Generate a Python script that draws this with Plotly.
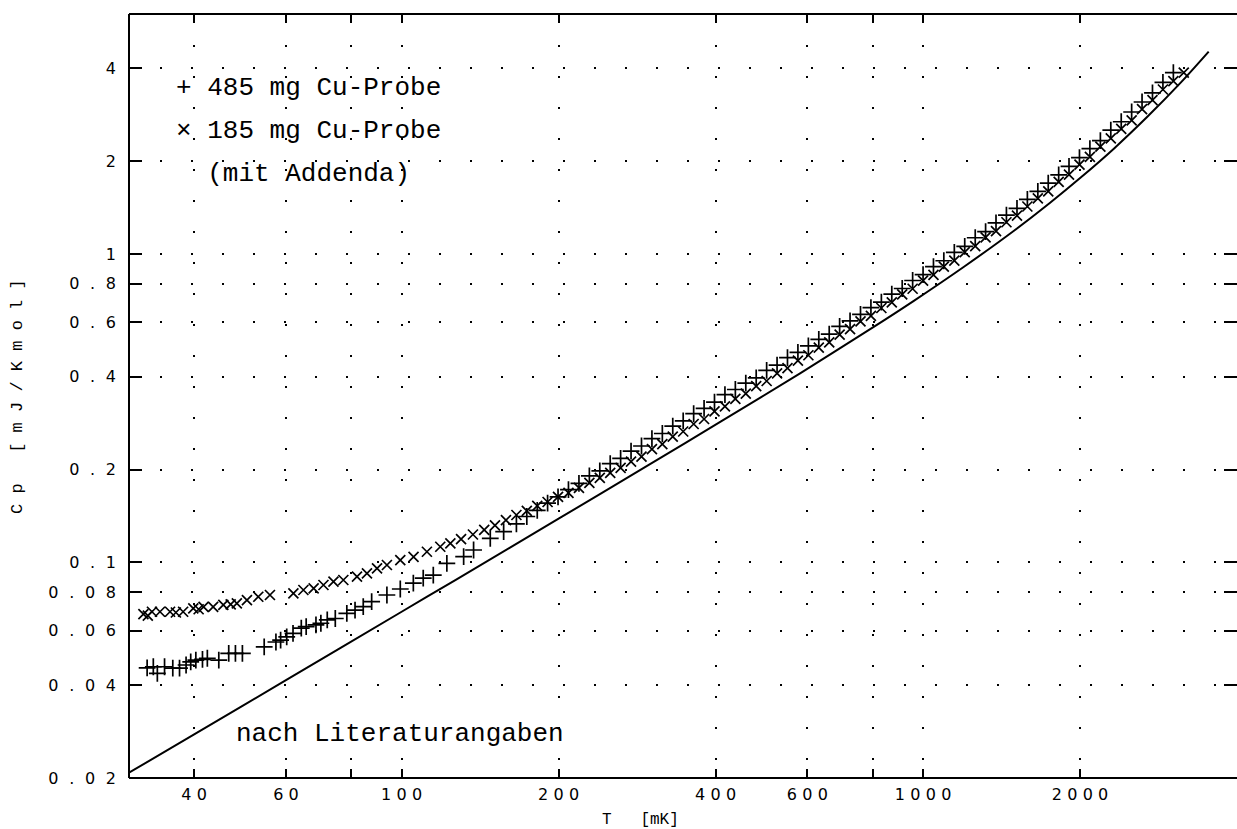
import math
import plotly.graph_objects as go

# ---------------- data ----------------
# literature curve for copper ("nach Literaturangaben")
lit_T = [30, 40, 60, 100, 127, 200, 300, 409, 582, 800, 960, 1200, 1494,
         1750, 2006, 2325, 2695, 3123, 3530]
lit_Cp = [0.0208, 0.0277, 0.0415, 0.0692, 0.0878, 0.1386, 0.2086, 0.286, 0.411,
          0.577, 0.705, 0.911, 1.19, 1.464, 1.77, 2.20, 2.79, 3.60, 4.53]

# 485 mg Cu sample (+), low temperature part
p485_T_low = [32.5, 33.4, 34.0, 35.1, 36.4, 37.5, 38.6, 39.4, 40.3, 41.5, 42.4,
              44.6, 46.6, 48.0, 49.5, 54.5, 57.4, 58.6, 60.2, 61.9, 64.2, 65.6,
              68.5, 70.0, 72.0, 74.6, 78.5, 81.4, 84.4, 87.6, 93.7, 99.4, 105.3,
              110.0, 115.0, 122.1, 131.5, 137.4, 147.9, 156.9]
p485_Cp_low = [0.0455, 0.0459, 0.0437, 0.0459, 0.0454, 0.0454, 0.0465, 0.0476,
               0.0482, 0.0485, 0.0489, 0.0482, 0.0507, 0.0507, 0.0507, 0.0532,
               0.0552, 0.0560, 0.0574, 0.0589, 0.0612, 0.0619, 0.0627, 0.0635,
               0.0651, 0.0658, 0.0684, 0.0700, 0.0719, 0.0746, 0.0784, 0.0820,
               0.0857, 0.0889, 0.0910, 0.0993, 0.1044, 0.1097, 0.1197, 0.1258]

# temperatures of the dense measurement points above ~160 mK
hi_T = [166.0, 173.8, 182.0, 190.5, 199.5, 208.9, 218.8, 229.1, 239.9, 251.2,
        263.0, 275.4, 288.4, 302.0, 316.2, 331.1, 346.7, 363.1, 380.2, 398.1,
        416.9, 436.5, 457.1, 478.6, 501.2, 524.8, 549.5, 575.4, 602.6, 631.0,
        660.7, 691.8, 724.4, 758.6, 794.3, 831.8, 871.0, 912.0, 955.0, 1000,
        1047, 1096, 1148, 1202, 1259, 1318, 1380, 1445, 1514, 1585,
        1660, 1738, 1820, 1905, 1995, 2089, 2188, 2291, 2399, 2512,
        2630, 2754, 2884, 3020]

p485_Cp_hi = [0.1333, 0.1409, 0.1475, 0.1556, 0.1632, 0.1723, 0.1805, 0.1907,
              0.1981, 0.2092, 0.2173, 0.2296, 0.2385, 0.2520, 0.2618, 0.2766,
              0.2875, 0.3038, 0.3157, 0.3309, 0.3498, 0.3637, 0.3813, 0.3964,
              0.4192, 0.4360, 0.4612, 0.4799, 0.5036, 0.5285, 0.5501, 0.5826,
              0.6069, 0.6375, 0.6701, 0.6984, 0.7410, 0.7728, 0.8205, 0.8567,
              0.9103, 0.9510, 1.0123, 1.0592, 1.1288, 1.1826, 1.2617, 1.3359,
              1.4048, 1.5026, 1.5963, 1.6970, 1.8065, 1.9244, 2.0542, 2.1955,
              2.3310, 2.5205, 2.6837, 2.8869, 3.1104, 3.3295, 3.6020, 3.8704]

# 185 mg Cu sample with addenda (x), low temperature part
x185_T_low = [31.97, 32.6, 33.2, 34.4, 35.96, 36.9, 38.1, 39.85, 40.8, 41.7,
              43.5, 45.5, 47.0, 48.3, 50.5, 53.1, 55.9, 62.0, 64.8, 67.8, 70.8,
              74.0, 77.3, 82.1, 85.8, 89.7, 93.7, 99.4, 105.4, 111.8, 118.6,
              124.0, 130.0, 137.0, 144.0, 151.0, 158.5]
x185_Cp_low = [0.0680, 0.0672, 0.0692, 0.0692, 0.0692, 0.0688, 0.0692, 0.0710,
               0.0705, 0.0718, 0.0718, 0.0728, 0.0731, 0.0737, 0.0755, 0.0774,
               0.0784, 0.0794, 0.0814, 0.0824, 0.0845, 0.0866, 0.0877, 0.0899,
               0.0922, 0.0957, 0.0981, 0.1018, 0.1043, 0.1083, 0.1124, 0.1153,
               0.1190, 0.1232, 0.1275, 0.1318, 0.1371]
x185_Cp_hi = [0.1425, 0.1469, 0.1526, 0.1570, 0.1632, 0.1680, 0.1745, 0.1811,
              0.1881, 0.1952, 0.2027, 0.2123, 0.2204, 0.2331, 0.2420, 0.2559,
              0.2658, 0.2811, 0.2918, 0.3087, 0.3207, 0.3392, 0.3524, 0.3728,
              0.3875, 0.4101, 0.4264, 0.4514, 0.4695, 0.4972, 0.5172, 0.5480,
              0.5706, 0.6048, 0.6300, 0.6683, 0.6966, 0.7395, 0.7714, 0.8197,
              0.8558, 0.9100, 0.9517, 1.0135, 1.0613, 1.1316, 1.1862, 1.2674,
              1.3321, 1.4256, 1.5145, 1.5954, 1.7138, 1.8093, 1.9488, 2.0642,
              2.2305, 2.3697, 2.5449, 2.7127, 2.9495, 3.1558, 3.4141, 3.633]
x185_T_end = [3162]
x185_Cp_end = [3.871]

# ticks
x_tick_vals = [40, 60, 80, 100, 200, 400, 600, 800, 1000, 2000]
x_tick_labels = ['40', '60', '', '100', '200', '400', '600', '', '1000', '2000']
y_tick_vals = [0.02, 0.04, 0.06, 0.08, 0.1, 0.2, 0.4, 0.6, 0.8, 1, 2, 4]
y_tick_labels = ['0.02', '0.04', '0.06', '0.08', '0.1', '0.2', '0.4', '0.6',
                 '0.8', '1', '2', '4']

# ---------------- figure ----------------
p485_T = p485_T_low + hi_T
p485_Cp = p485_Cp_low + p485_Cp_hi
x185_T = x185_T_low + hi_T + x185_T_end
x185_Cp = x185_Cp_low + x185_Cp_hi + x185_Cp_end

fig = go.Figure()
fig.add_trace(go.Scatter(x=lit_T, y=lit_Cp, mode='lines',
                         line=dict(color='black', width=2, shape='spline', smoothing=0.8),
                         hoverinfo='skip'))
fig.add_trace(go.Scatter(x=x185_T, y=x185_Cp, mode='markers',
                         marker=dict(symbol='x-thin', size=10, color='black',
                                     line=dict(color='black', width=1.7))))
fig.add_trace(go.Scatter(x=p485_T, y=p485_Cp, mode='markers',
                         marker=dict(symbol='cross-thin', size=12, color='black',
                                     line=dict(color='black', width=1.7))))

xsp = '\u2004'
ysp = '\u2002\u2006'
tickfont = dict(family='DejaVu Sans', size=16, color='black')

fig.update_xaxes(type='log', range=[math.log10(30), math.log10(4000)],
                 tickvals=x_tick_vals, ticktext=[xsp.join(s) for s in x_tick_labels],
                 ticks='inside', ticklen=9, tickwidth=2, tickcolor='black',
                 showline=False, mirror='ticks',
                 showgrid=True, gridcolor='black', gridwidth=2, griddash='2px,29px',
                 zeroline=False, tickfont=tickfont, ticklabelstandoff=5)
fig.update_yaxes(type='log', range=[math.log10(0.02), math.log10(6)],
                 tickvals=y_tick_vals, ticktext=[ysp.join(s) for s in y_tick_labels],
                 ticks='inside', ticklen=13, tickwidth=2, tickcolor='black',
                 showline=False, mirror='ticks',
                 showgrid=True, gridcolor='black', gridwidth=2, griddash='2px,29px',
                 zeroline=False, tickfont=tickfont, ticklabelstandoff=12)

L, R, T, B = 129, 0, 14, 51
W, H = 1237, 829
pw, ph = W - L - R, H - T - B

def px(x):
    return (x - L) / pw

def py(y):
    return (H - B - y) / ph

# frame: left, top and bottom border lines (the right one lies off the page)
frame = [
    dict(type='line', xref='paper', yref='paper', x0=0, x1=0, y0=0, y1=1),
    dict(type='line', xref='paper', yref='paper', x0=0, x1=1, y0=1, y1=1),
    dict(type='line', xref='paper', yref='paper', x0=0, x1=1, y0=0, y1=0),
]
for s in frame:
    s.update(line=dict(color='black', width=2), layer='above')

mono = dict(family='Liberation Mono', size=26, color='black')
ann = [
    dict(text='+ 485 mg Cu-Probe', x=px(174), y=py(88), xanchor='left', yanchor='middle', font=mono),
    dict(text='\u00d7 185 mg Cu-Probe', x=px(174), y=py(131), xanchor='left', yanchor='middle', font=mono),
    dict(text='  (mit Addenda)', x=px(174), y=py(174), xanchor='left', yanchor='middle', font=mono),
    dict(text='nach Literaturangaben', x=px(234), y=py(734), xanchor='left', yanchor='middle', font=mono),
    dict(text='T   [mK]', x=px(640), y=py(820), xanchor='center', yanchor='middle',
         font=dict(family='Liberation Mono', size=16, color='black')),
    dict(text='C p   [ m J / K m o l ]', x=px(17), y=py(397), xanchor='center', yanchor='middle',
         textangle=-90, font=dict(family='Liberation Mono', size=17, color='black')),
]
for a in ann:
    a.update(xref='paper', yref='paper', showarrow=False)

fig.update_layout(width=W, height=H, margin=dict(l=L, r=R, t=T, b=B),
                  plot_bgcolor='white', paper_bgcolor='white', showlegend=False,
                  annotations=ann, shapes=frame)

fig.write_html('out.html')
